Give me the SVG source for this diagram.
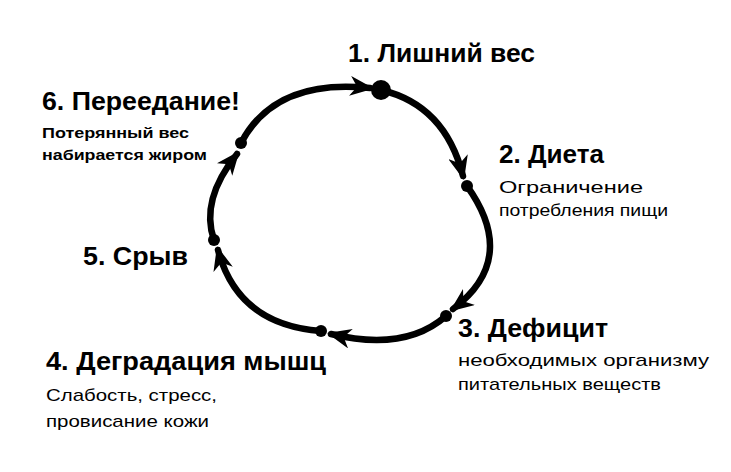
<svg xmlns="http://www.w3.org/2000/svg" width="731" height="472" viewBox="0 0 731 472">
<style>
text{font-family:"Liberation Sans",Arial,sans-serif;fill:#000}
.h{font-size:26px;font-weight:bold}
.s{font-size:17px}
.b{font-size:15px;font-weight:bold}
.c{fill:none;stroke:#000;stroke-width:6.5;stroke-linecap:round}
</style>
<defs>
<marker id="a" viewBox="0 0 24 20" refX="20" refY="10" markerWidth="24" markerHeight="20" markerUnits="userSpaceOnUse" orient="auto">
<path d="M0,0 L24,10 L0,20 L7,10 Z" fill="#000"/>
</marker>
</defs>
<rect width="731" height="472" fill="#fff"/>
<g id="connectors">
<path class="c" d="M381,90 Q445,105 463,176" marker-end="url(#a)"/>
<path class="c" d="M467,186 C495,225 505,270 453,309" marker-end="url(#a)"/>
<path class="c" d="M446,316 Q405,352 331,334" marker-end="url(#a)"/>
<path class="c" d="M321,331 Q238,325 218,250" marker-end="url(#a)"/>
<path class="c" d="M214,240 Q200,200 237,154" marker-end="url(#a)"/>
<path class="c" d="M241,143 Q275,78 370,88" marker-end="url(#a)"/>
</g>
<g id="n1"><circle cx="381" cy="90" r="10"/><text class="h" x="348" y="62" textLength="187" lengthAdjust="spacingAndGlyphs">1. Лишний вес</text></g>
<g id="n2"><circle cx="467" cy="186" r="6"/><text class="h" x="499" y="163" textLength="105" lengthAdjust="spacingAndGlyphs">2. Диета</text><text class="s" x="499" y="193" textLength="144" lengthAdjust="spacingAndGlyphs">Ограничение</text><text class="s" x="499" y="216" textLength="169" lengthAdjust="spacingAndGlyphs">потребления пищи</text></g>
<g id="n3"><circle cx="446" cy="316" r="6"/><text class="h" x="458" y="337" textLength="150" lengthAdjust="spacingAndGlyphs">3. Дефицит</text><text class="s" x="458" y="366" textLength="251" lengthAdjust="spacingAndGlyphs">необходимых организму</text><text class="s" x="458" y="390" textLength="203" lengthAdjust="spacingAndGlyphs">питательных веществ</text></g>
<g id="n4"><circle cx="321" cy="331" r="6"/><text class="h" x="46" y="370" textLength="280" lengthAdjust="spacingAndGlyphs">4. Деградация мышц</text><text class="s" x="46" y="401" textLength="171" lengthAdjust="spacingAndGlyphs">Слабость, стресс,</text><text class="s" x="46" y="427" textLength="163" lengthAdjust="spacingAndGlyphs">провисание кожи</text></g>
<g id="n5"><circle cx="214" cy="240" r="6"/><text class="h" x="83" y="265" textLength="105" lengthAdjust="spacingAndGlyphs">5. Срыв</text></g>
<g id="n6"><circle cx="241" cy="143" r="6"/><text class="h" x="42" y="110" textLength="198" lengthAdjust="spacingAndGlyphs">6. Переедание!</text><text class="b" x="42" y="138" textLength="147" lengthAdjust="spacingAndGlyphs">Потерянный вес</text><text class="b" x="42" y="160" textLength="165" lengthAdjust="spacingAndGlyphs">набирается жиром</text></g>
</svg>
